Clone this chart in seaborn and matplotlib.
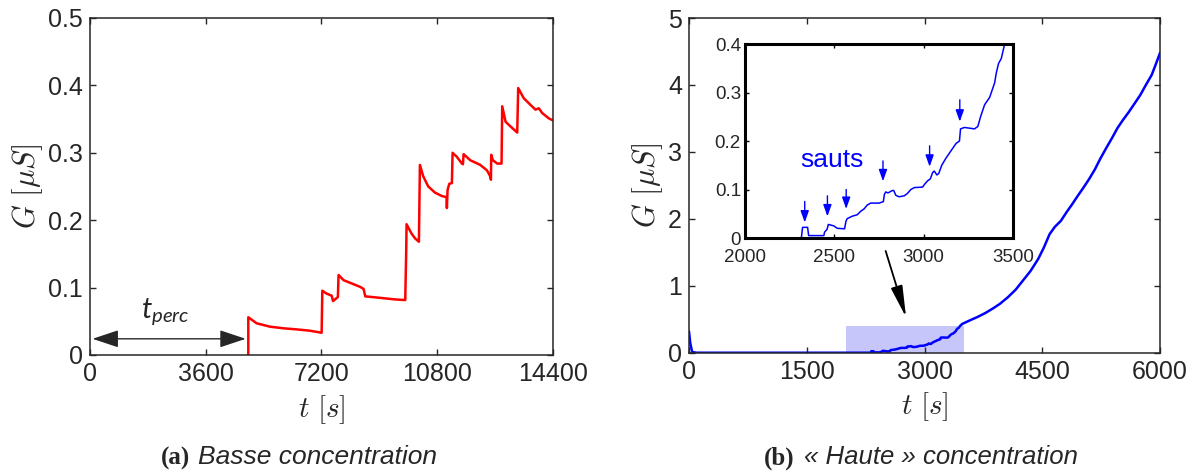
import numpy as np
import pandas as pd
import matplotlib
matplotlib.use("Agg")
import matplotlib.pyplot as plt
import seaborn as sns

# ---------------------------------------------------------
# (a) basse concentration : G(t), sauts successifs
# ---------------------------------------------------------
t_a = [4924, 4924, 5184, 5598, 6013, 6428, 6842, 7205,
       7226, 7360, 7517, 7560, 7710,
       7731, 7887, 8146, 8405, 8509, 8561, 8976, 9494, 9805,
       9836, 9846, 10002, 10110, 10230,
       10261, 10365, 10520, 10727, 10935, 11090, 11100, 11122, 11175, 11256,
       11277, 11410, 11567, 11600,
       11619, 11826, 12137, 12345, 12449, 12470,
       12479, 12530, 12665, 12800,
       12821, 12925, 13080, 13287,
       13318, 13490, 13701, 13857, 13960, 14064, 14271, 14400]
g_a = [0.0, 0.056, 0.047, 0.042, 0.0396, 0.038, 0.036, 0.033,
       0.0954, 0.091, 0.088, 0.080, 0.086,
       0.1187, 0.111, 0.106, 0.101, 0.098, 0.087, 0.085, 0.0824, 0.0815,
       0.156, 0.194, 0.180, 0.173, 0.168,
       0.282, 0.265, 0.250, 0.241, 0.236, 0.234, 0.218, 0.245, 0.254, 0.255,
       0.300, 0.294, 0.284, 0.283,
       0.298, 0.289, 0.282, 0.274, 0.265, 0.260,
       0.297, 0.289, 0.284, 0.284,
       0.369, 0.346, 0.339, 0.330,
       0.396, 0.381, 0.371, 0.364, 0.366, 0.359, 0.351, 0.348]

# ---------------------------------------------------------
# (b) haute concentration
# ---------------------------------------------------------
t_b_debut = [0, 15, 40, 100, 2000]
g_b_debut = [0.32, 0.15, 0.01, 0.0, 0.0]

# zone agrandie (encart 2000-3500 s)
t_zoom = [2315, 2322, 2350, 2356, 2441, 2445, 2459, 2466, 2497, 2516, 2557,
          2565, 2572, 2600, 2628, 2647, 2666, 2684, 2703, 2750, 2774, 2780,
          2787, 2800, 2825, 2832, 2844, 2862, 2891, 2909, 2928, 2947, 2994,
          3003, 3022, 3037, 3050, 3059, 3074, 3084, 3101, 3125, 3153, 3181,
          3200, 3206, 3228, 3266, 3284, 3303, 3318, 3341, 3369, 3397, 3406,
          3419, 3434, 3453, 3480]
g_zoom = [0.0, 0.022, 0.022, 0.005, 0.005, 0.012, 0.018, 0.028, 0.025, 0.020, 0.019,
          0.035, 0.040, 0.045, 0.048, 0.055, 0.060, 0.068, 0.072, 0.072, 0.075, 0.090,
          0.095, 0.093, 0.098, 0.098, 0.088, 0.085, 0.087, 0.092, 0.100, 0.104, 0.105,
          0.110, 0.118, 0.122, 0.135, 0.138, 0.130, 0.133, 0.150, 0.165, 0.180, 0.195,
          0.200, 0.225, 0.228, 0.226, 0.225, 0.230, 0.250, 0.275, 0.290, 0.320, 0.340,
          0.360, 0.370, 0.400, 0.430]

t_b_fin = [3590, 3677, 3770, 3870, 3960, 4063, 4160, 4255, 4350, 4448, 4520,
           4593, 4660, 4737, 4810, 4882, 4950, 5027, 5100, 5171, 5240, 5316,
           5390, 5460, 5530, 5605, 5680, 5749, 5820, 5894, 5950, 6000]
g_b_fin = [0.49, 0.535, 0.59, 0.66, 0.73, 0.83, 0.94, 1.08, 1.22, 1.40, 1.57,
           1.77, 1.88, 1.97, 2.10, 2.22, 2.34, 2.47, 2.60, 2.74, 2.90, 3.06,
           3.21, 3.36, 3.48, 3.60, 3.73, 3.85, 4.00, 4.15, 4.32, 4.48]

# fleches "sauts" : pointe (t, G) et depart en G
saut_t = [2334, 2461, 2566, 2772, 3033, 3202]
saut_g = [0.032, 0.0446, 0.060, 0.117, 0.147, 0.240]
saut_g0 = [0.0755, 0.087, 0.100, 0.159, 0.190, 0.285]

yticks_a = [0, 0.1, 0.2, 0.3, 0.4, 0.5]
yticklabels_a = ["0", "0.1", "0.2", "0.3", "0.4", "0.5"]
xticks_a = [0, 3600, 7200, 10800, 14400]
yticks_b = [0, 1, 2, 3, 4, 5]
xticks_b = [0, 1500, 3000, 4500, 6000]
xticks_zoom = [2000, 2500, 3000, 3500]
yticks_zoom = [0, 0.1, 0.2, 0.3, 0.4]
yticklabels_zoom = ["0", "0.1", "0.2", "0.3", "0.4"]

sns.set_style("ticks", {"xtick.direction": "in", "ytick.direction": "in"})
plt.rcParams["font.family"] = ["Liberation Sans", "DejaVu Sans"]
plt.rcParams["mathtext.fontset"] = "cm"
plt.rcParams["mathtext.it"] = "Lato:italic"
plt.rcParams["mathtext.rm"] = "Lato"

GRIS = "#262626"

df_a = pd.DataFrame({"t": t_a, "G": g_a})
df_b = pd.DataFrame({"t": t_b_debut + t_zoom + t_b_fin,
                     "G": g_b_debut + g_zoom + g_b_fin})
df_z = pd.DataFrame({"t": [2000] + t_zoom, "G": [0.0] + g_zoom})

fig = plt.figure(figsize=(11.9, 4.73), dpi=100)
ax1 = fig.add_axes([0.0756, 0.2495, 0.3891, 0.7125])
ax2 = fig.add_axes([0.5790, 0.2543, 0.3958, 0.7076])
axz = fig.add_axes([0.6261, 0.4968, 0.2252, 0.4101])


def style_axes(ax, lw, fs, col):
    for sp in ax.spines.values():
        sp.set_visible(True)
        sp.set_linewidth(lw)
        sp.set_color(col)
    ax.tick_params(direction="in", length=4, width=1, top=True, right=True,
                   labelsize=fs, labelcolor=GRIS, color=col, pad=5)


# --- (a)
sns.lineplot(data=df_a, x="t", y="G", ax=ax1, color="#ff0000", lw=1.8,
             estimator=None, sort=False)
ax1.set_xlim(0, 14400)
ax1.set_ylim(0, 0.5)
ax1.set_xticks(xticks_a)
ax1.set_yticks(yticks_a)
ax1.set_yticklabels(yticklabels_a)
style_axes(ax1, 1.1, 18, GRIS)
ax1.set_xlabel(r"$t\ [s]$", fontsize=21, color=GRIS, labelpad=5)
ax1.set_ylabel(r"$G\ [\mu S]$", fontsize=22, color=GRIS, labelpad=2)
ax1.annotate("", xy=(80, 0.024), xytext=(4843, 0.024),
             arrowprops=dict(arrowstyle="<|-|>,head_length=0.9,head_width=0.3",
                             color=GRIS, lw=1.0, mutation_scale=18,
                             shrinkA=0, shrinkB=0))
ax1.text(2330, 0.056, r"$t_{perc}$", fontsize=21, color=GRIS, ha="center",
         va="baseline", math_fontfamily="custom")

# --- (b)
ax2.axvspan(2000, 3500, ymin=0, ymax=0.4 / 5, color="#c6c6fa", lw=0, zorder=0)
sns.lineplot(data=df_b, x="t", y="G", ax=ax2, color="#0000ff", lw=1.8,
             estimator=None, sort=False)
ax2.set_xlim(0, 6000)
ax2.set_ylim(0, 5)
ax2.set_xticks(xticks_b)
ax2.set_yticks(yticks_b)
style_axes(ax2, 1.1, 18, GRIS)
ax2.set_xlabel(r"$t\ [s]$", fontsize=21, color=GRIS, labelpad=5)
ax2.set_ylabel(r"$G\ [\mu S]$", fontsize=22, color=GRIS, labelpad=2)
ax2.annotate("", xy=(2765, 0.53), xytext=(2505, 1.52),
             arrowprops=dict(arrowstyle="-|>,head_length=1.6,head_width=0.3",
                             color="black", lw=1.3, mutation_scale=12,
                             shrinkA=0, shrinkB=0))

# --- encart
sns.lineplot(data=df_z, x="t", y="G", ax=axz, color="#0000ff", lw=1.1,
             estimator=None, sort=False)
axz.set_xlim(2000, 3500)
axz.set_ylim(0, 0.4)
axz.set_xticks(xticks_zoom)
axz.set_yticks(yticks_zoom)
axz.set_yticklabels(yticklabels_zoom)
style_axes(axz, 2.2, 13.5, "black")
axz.tick_params(length=3)
axz.tick_params(axis="x", pad=8)
axz.tick_params(axis="y", pad=3)
axz.set_xlabel("")
axz.set_ylabel("")
for ts, gs, g0 in zip(saut_t, saut_g, saut_g0):
    axz.annotate("", xy=(ts, gs), xytext=(ts, g0),
                 arrowprops=dict(arrowstyle="-|>,head_length=0.7,head_width=0.25",
                                 color="#0000ff", lw=1.0, mutation_scale=10,
                                 shrinkA=0, shrinkB=0))
axz.text(2484, 0.16, "sauts", fontsize=19, color="#0000ff",
         ha="center", va="center")

# --- legendes
fig.text(0.135, 0.018, "(a)", fontsize=18, fontweight="bold",
         family="Liberation Serif", color=GRIS, va="baseline")
fig.text(0.166, 0.018, "Basse concentration", fontsize=19, style="italic",
         color=GRIS, va="baseline")
fig.text(0.642, 0.018, "(b)", fontsize=18, fontweight="bold",
         family="Liberation Serif", color=GRIS, va="baseline")
fig.text(0.676, 0.018, "\u00ab Haute \u00bb concentration", fontsize=18.5,
         style="italic", color=GRIS, va="baseline")

fig.savefig("out.png", dpi=100)
